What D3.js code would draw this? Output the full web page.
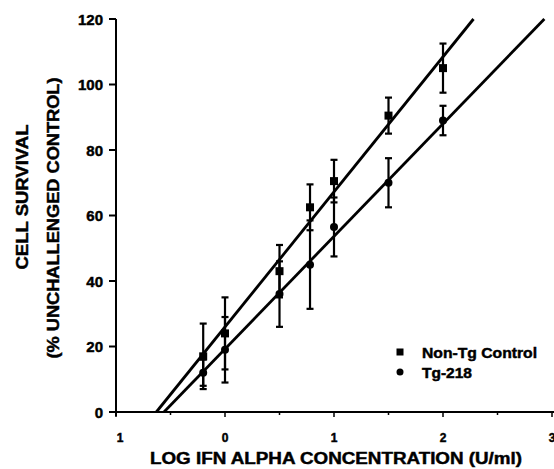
<!DOCTYPE html>
<html>
<head>
<meta charset="utf-8">
<script src="https://cdn.jsdelivr.net/npm/d3@7.9.0/dist/d3.min.js"></script>
<style>
  body { margin: 0; background: #fff; }
  svg text { font-family: "Liberation Sans", Arial, sans-serif; font-weight: bold; fill: #000; stroke: #000; stroke-width: 0.45; }
</style>
</head>
<body>
<svg id="chart" width="554" height="469"></svg>
<script>
// log IFN alpha dose for each measured point
const doses = [-0.2, 0, 0.5, 0.78, 1.0, 1.5, 2.0];

// Non-Tg Control (squares)
const nonTgMean = [17, 24, 43, 62.5, 70.5, 90.5, 105];
const nonTgErr = [10, 11, 8, 7, 6.5, 5.5, 7.5];

// Tg-218 (circles)
const tgMean = [12, 19, 36, 45, 56.5, 70, 89];
const tgErr = [4, 10, 10, 13.5, 9, 7.5, 4.5];

// regression line end points
const nonTgFit = [[-0.63, 0], [2.28, 120]];
const tgFit = [[-0.56, 0], [2.93, 120]];

const xTicks = [-1, 0, 1, 2, 3];
const xTickLabels = ['1', '0', '1', '2', '3'];
const xMinorTicks = [-0.5, 0.5, 1.5, 2.5];
const yTicks = [0, 20, 40, 60, 80, 100, 120];

const svg = d3.select('#chart');

const x = d3.scaleLinear().domain([-1, 3]).range([116, 552]);
const y = d3.scaleLinear().domain([0, 120]).range([412, 19]);

// x axis
const xAxis = svg.append('g').attr('transform', `translate(0,${y(0)})`);
xAxis.append('line')
  .attr('x1', x(-1)).attr('x2', 554)
  .attr('stroke', '#000').attr('stroke-width', 2);
xAxis.selectAll('.major')
  .data(xTicks)
  .join('line')
  .attr('x1', d => x(d)).attr('x2', d => x(d))
  .attr('y1', 0).attr('y2', 5)
  .attr('stroke', '#000').attr('stroke-width', 1.5);
xAxis.selectAll('.minor')
  .data(xMinorTicks)
  .join('line')
  .attr('x1', d => x(d)).attr('x2', d => x(d))
  .attr('y1', 0).attr('y2', 3)
  .attr('stroke', '#000').attr('stroke-width', 1.5);
xAxis.selectAll('text')
  .data(xTicks)
  .join('text')
  .attr('x', (d, i) => x(d) + (i === 0 ? 4 : 0))
  .attr('y', 30)
  .attr('text-anchor', 'middle')
  .attr('font-size', 12)
  .text((d, i) => xTickLabels[i]);

// y axis
const yAxis = svg.append('g').attr('transform', `translate(${x(-1)},0)`);
yAxis.append('line')
  .attr('y1', y(120)).attr('y2', y(0) + 4)
  .attr('stroke', '#000').attr('stroke-width', 2);
yAxis.selectAll('line.tick')
  .data(yTicks)
  .join('line')
  .attr('class', 'tick')
  .attr('x1', -7).attr('x2', 0)
  .attr('y1', d => y(d)).attr('y2', d => y(d))
  .attr('stroke', '#000').attr('stroke-width', 2);
yAxis.selectAll('text')
  .data(yTicks)
  .join('text')
  .attr('x', -13)
  .attr('y', d => y(d) + 5.5)
  .attr('text-anchor', 'end')
  .attr('font-size', 15)
  .text(d => d);

// axis titles
svg.append('text')
  .attr('x', 336).attr('y', 464)
  .attr('text-anchor', 'middle')
  .attr('font-size', 16)
  .attr('textLength', 372)
  .attr('lengthAdjust', 'spacingAndGlyphs')
  .text('LOG IFN ALPHA CONCENTRATION (U/ml)');

svg.append('text')
  .attr('transform', 'translate(28,197) rotate(-90)')
  .attr('text-anchor', 'middle')
  .attr('font-size', 16)
  .attr('textLength', 145)
  .attr('lengthAdjust', 'spacingAndGlyphs')
  .text('CELL SURVIVAL');

svg.append('text')
  .attr('transform', 'translate(59,218) rotate(-90)')
  .attr('text-anchor', 'middle')
  .attr('font-size', 16)
  .attr('textLength', 281)
  .attr('lengthAdjust', 'spacingAndGlyphs')
  .text('(% UNCHALLENGED CONTROL)');

// regression lines
const line = d3.line().x(d => x(d[0])).y(d => y(d[1]));
[nonTgFit, tgFit].forEach(fit => {
  svg.append('path')
    .attr('d', line(fit))
    .attr('fill', 'none')
    .attr('stroke', '#000')
    .attr('stroke-width', 2.8);
});

// error bars
function drawErrors(means, errs) {
  const g = svg.append('g').attr('stroke', '#000').attr('stroke-width', 2.2);
  doses.forEach((d, i) => {
    const cx = x(d);
    const top = y(means[i] + errs[i]);
    const bot = y(means[i] - errs[i]);
    g.append('line').attr('x1', cx).attr('x2', cx).attr('y1', top).attr('y2', bot);
    g.append('line').attr('x1', cx - 3.5).attr('x2', cx + 3.5).attr('y1', top).attr('y2', top);
    g.append('line').attr('x1', cx - 3.5).attr('x2', cx + 3.5).attr('y1', bot).attr('y2', bot);
  });
}
drawErrors(nonTgMean, nonTgErr);
drawErrors(tgMean, tgErr);

// markers
svg.append('g')
  .selectAll('rect')
  .data(doses)
  .join('rect')
  .attr('x', d => x(d) - 4)
  .attr('y', (d, i) => y(nonTgMean[i]) - 4)
  .attr('width', 8).attr('height', 8)
  .attr('fill', '#000');

svg.append('g')
  .selectAll('circle')
  .data(doses)
  .join('circle')
  .attr('cx', d => x(d))
  .attr('cy', (d, i) => y(tgMean[i]))
  .attr('r', 4)
  .attr('fill', '#000');

// legend
const legend = svg.append('g').attr('transform', 'translate(400,352)');
legend.append('rect').attr('x', -3.5).attr('y', -3.5).attr('width', 7).attr('height', 7).attr('fill', '#000');
legend.append('circle').attr('cx', 0).attr('cy', 20).attr('r', 3.5).attr('fill', '#000');
legend.append('text')
  .attr('x', 22).attr('y', 6)
  .attr('font-size', 14)
  .attr('textLength', 115)
  .attr('lengthAdjust', 'spacingAndGlyphs')
  .text('Non-Tg Control');
legend.append('text')
  .attr('x', 22).attr('y', 26)
  .attr('font-size', 14)
  .attr('textLength', 50)
  .attr('lengthAdjust', 'spacingAndGlyphs')
  .text('Tg-218');
</script>
</body>
</html>
